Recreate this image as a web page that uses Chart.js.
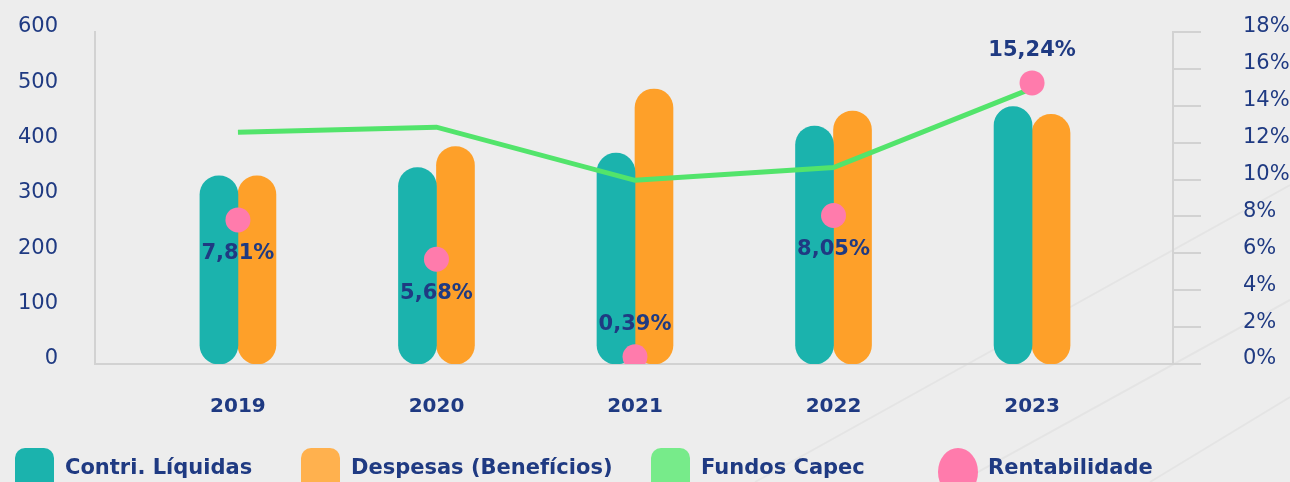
<!DOCTYPE html>
<html lang="pt">
<head>
<meta charset="utf-8">
<title>Capec</title>
<script src="https://cdn.jsdelivr.net/npm/chart.js@4.4.1/dist/chart.umd.min.js"></script>
<style>
  html, body { margin: 0; padding: 0; background: #ededed; overflow: hidden; }
  #wrap { position: relative; width: 1290px; height: 482px; }
</style>
</head>
<body>
<div id="wrap"><canvas id="capecChart"></canvas></div>
<script>
// Values
const years = ['2019', '2020', '2021', '2022', '2023'];
const contribLiquidas = [340, 355, 381, 430, 465];
const despesas = [340, 393, 497, 457, 451];
const fundosCapec = [419, 428, 332, 355, 498];
const rentabilidade = [7.81, 5.68, 0.39, 8.05, 15.24];
const leftTicks = [0, 100, 200, 300, 400, 500, 600];
const rightTicks = [0, 2, 4, 6, 8, 10, 12, 14, 16, 18];

const NAVY = '#1f3a82';
const AXIS_GRAY = '#d2d2d2';
const FONT = '"DejaVu Sans", sans-serif';

// bars live on a linear x scale, so feed them {x, y} points
const toPoints = arr => arr.map((v, i) => ({ x: i, y: v }));

// fixed axis width, and don't let tick padding push the chart area down
const fixWidth = w => axis => {
    axis.width = w;
    axis.paddingTop = 0;
    axis.paddingBottom = 0;
};

// faint diagonal strokes in the background, bottom right
const backdrop = {
    id: 'backdrop',
    beforeDraw(chart) {
        const ctx = chart.ctx;
        ctx.save();
        ctx.strokeStyle = 'rgba(0, 0, 0, 0.035)';
        ctx.lineWidth = 2;
        [[755, 482, 1290, 185], [960, 482, 1290, 300], [1150, 482, 1290, 397]].forEach(l => {
            ctx.beginPath();
            ctx.moveTo(l[0], l[1]);
            ctx.lineTo(l[2], l[3]);
            ctx.stroke();
        });
        ctx.restore();
    }
};

// percentage labels next to the pink dots
const rentLabels = {
    id: 'rentLabels',
    afterDatasetsDraw(chart) {
        const meta = chart.getDatasetMeta(3);
        const ctx = chart.ctx;
        const top = Math.max(...rentabilidade);
        ctx.save();
        ctx.font = 'bold 21px ' + FONT;
        ctx.fillStyle = NAVY;
        ctx.textAlign = 'center';
        ctx.textBaseline = 'middle';
        meta.data.forEach((pt, i) => {
            const v = rentabilidade[i];
            const above = v === top || v < 2;
            const text = v.toFixed(2).replace('.', ',') + '%';
            ctx.fillText(text, pt.x, pt.y + (above ? -32 : 34));
        });
        ctx.restore();
    }
};

// legend drawn in fixed columns along the bottom edge
const columnLegend = {
    id: 'columnLegend',
    afterDraw(chart, args, opts) {
        const ctx = chart.ctx;
        ctx.save();
        ctx.font = 'bold 21px ' + FONT;
        ctx.textBaseline = 'middle';
        chart.data.datasets.forEach((ds, i) => {
            const x = opts.columns[i];
            ctx.fillStyle = opts.colors[i];
            ctx.beginPath();
            if (i === 3) {
                ctx.ellipse(x + 20, 472, 20, 24, 0, 0, Math.PI * 2);
            } else {
                ctx.roundRect(x, 448, 39, 48, 10);
            }
            ctx.fill();
            ctx.fillStyle = NAVY;
            ctx.fillText(ds.label, x + 50, 469);
        });
        ctx.restore();
    }
};

const ctx = document.getElementById('capecChart').getContext('2d');
const capecChart = new Chart(ctx, {
    type: 'bar',
    data: {
        datasets: [
            {
                label: 'Contri. Líquidas',
                data: toPoints(contribLiquidas),
                backgroundColor: '#1bb3ad',
                borderRadius: 19,
                borderSkipped: false,
                barThickness: 38,
                yAxisID: 'y',
                order: 3
            },
            {
                label: 'Despesas (Benefícios)',
                data: toPoints(despesas),
                backgroundColor: '#fea029',
                borderRadius: 19,
                borderSkipped: false,
                barThickness: 38,
                yAxisID: 'y',
                order: 3
            },
            {
                type: 'line',
                label: 'Fundos Capec',
                data: toPoints(fundosCapec),
                borderColor: '#52e46b',
                borderWidth: 5,
                pointRadius: 0,
                tension: 0,
                yAxisID: 'y',
                order: 2
            },
            {
                type: 'line',
                label: 'Rentabilidade',
                data: toPoints(rentabilidade),
                showLine: false,
                backgroundColor: '#ff7bac',
                borderWidth: 0,
                pointRadius: 12.5,
                pointHoverRadius: 12.5,
                yAxisID: 'y1',
                order: 1
            }
        ]
    },
    options: {
        responsive: true,
        maintainAspectRatio: false,
        animation: false,
        layout: { padding: { top: 32, bottom: 63, left: 0, right: 0 } },
        scales: {
            x: {
                type: 'linear',
                min: -0.72,
                max: 4.71,
                offset: false,
                grid: { display: false, drawTicks: false },
                border: { display: true, color: AXIS_GRAY, width: 2 },
                afterBuildTicks: axis => { axis.ticks = years.map((_, i) => ({ value: i })); },
                afterFit: axis => { axis.height = 55; },
                ticks: {
                    color: NAVY,
                    font: { family: FONT, size: 20, weight: 'bold' },
                    padding: 31,
                    maxRotation: 0,
                    autoSkip: false,
                    callback: value => years[value]
                }
            },
            y: {
                position: 'left',
                min: leftTicks[0],
                max: leftTicks[leftTicks.length - 1],
                grid: { display: false, drawTicks: false },
                border: { display: true, color: AXIS_GRAY, width: 2 },
                afterBuildTicks: axis => { axis.ticks = leftTicks.map(v => ({ value: v })); },
                afterFit: fixWidth(95),
                ticks: {
                    color: NAVY,
                    font: { family: FONT, size: 21 },
                    padding: 37,
                    labelOffset: -5
                }
            },
            y1: {
                position: 'right',
                min: rightTicks[0],
                max: rightTicks[rightTicks.length - 1],
                grid: {
                    display: true,
                    drawOnChartArea: false,
                    drawTicks: true,
                    tickLength: 28,
                    color: AXIS_GRAY,
                    lineWidth: 2
                },
                border: { display: true, color: AXIS_GRAY, width: 2 },
                afterBuildTicks: axis => { axis.ticks = rightTicks.map(v => ({ value: v })); },
                afterFit: fixWidth(117),
                ticks: {
                    color: NAVY,
                    font: { family: FONT, size: 21 },
                    padding: 42,
                    labelOffset: -5,
                    callback: value => value + '%'
                }
            }
        },
        plugins: {
            legend: { display: false },
            tooltip: { enabled: false },
            columnLegend: {
                columns: [15, 301, 651, 938],
                colors: ['#1bb3ad', '#ffb14e', '#77eb8a', '#ff7bac']
            }
        }
    },
    plugins: [backdrop, rentLabels, columnLegend]
});
</script>
</body>
</html>
